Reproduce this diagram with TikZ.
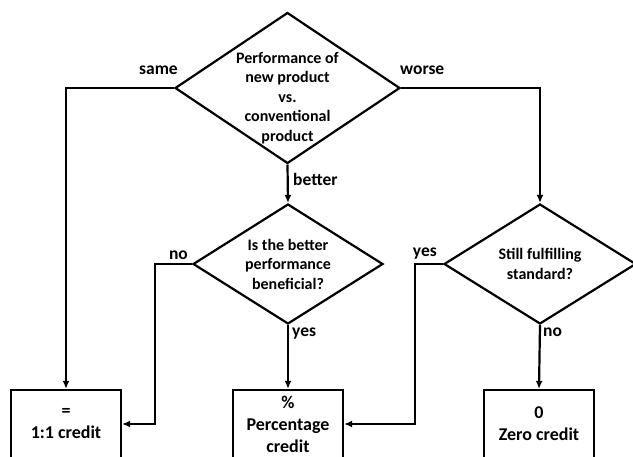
\documentclass[tikz,border=0pt]{standalone}
\usepackage{fontspec}
\setmainfont{Carlito}
\usetikzlibrary{shapes.geometric,arrows.meta}

\begin{document}
\begin{tikzpicture}[x=1pt, y=-1pt,
    decision/.style={shape=diamond, draw=black, line width=2.2pt, inner sep=0pt},
    result/.style={shape=rectangle, draw=black, line width=2.2pt, minimum width=110pt, minimum height=68pt, align=center, font=\fontsize{18}{22}\selectfont\bfseries},
    qtext/.style={align=center, inner sep=0pt, font=\fontsize{16}{19.5}\selectfont\bfseries},
    elabel/.style={inner sep=0pt, font=\fontsize{17.5}{21}\selectfont\bfseries},
    arr/.style={line width=2.2pt, -{Latex[length=8pt, width=7pt]}}]
    \useasboundingbox (0,0) rectangle (633,456);
    \clip (0,0) rectangle (633,456);
    \node[decision, minimum width=225pt, minimum height=151pt] at (287.5,88) (D0) {};
    \node[decision, minimum width=190pt, minimum height=120pt] at (288,264) (D1) {};
    \node[decision, minimum width=192pt, minimum height=120pt] at (540,264) (D2) {};
    \node[qtext] at ([yshift=-10pt]D0.center) (T0) {Performance of\\new product\\vs.\\conventional\\product};
    \node[qtext] at (D1.center) (T1) {Is the better\\performance\\beneficial?};
    \node[qtext] at (D2.center) (T2) {Still fulfilling\\standard?};
    \node[result] at (66,424) (R0) {=\\1:1 credit};
    \node[result] at (288,424) (R1) {\%\\Percentage\\credit};
    \node[result] at (539,424) (R2) {0\\Zero credit};
    \node[elabel, anchor=base east] at (178,74) (L0) {same};
    \node[elabel, anchor=base west] at (400,74) (L1) {worse};
    \node[elabel, anchor=base west] at (293,185) (L2) {better};
    \node[elabel, anchor=base east] at (188,259) (L3) {no};
    \node[elabel, anchor=base west] at (292,336) (L4) {yes};
    \node[elabel, anchor=base east] at (437,256) (L5) {yes};
    \node[elabel, anchor=base west] at (543,336) (L6) {no};
    \draw [arr] (D0.west) -| (R0.north);
    \draw [arr] (D0.east) -| (D2.north);
    \draw [arr] (D0.south) -- (D1.north);
    \draw [arr] (D1.west) -- ++(-37,0) |- (R0.east);
    \draw [arr] (D1.south) -- (R1.north);
    \draw [arr] (D2.west) -- ++(-28,0) |- (R1.east);
    \draw [arr] (D2.south) -- (R2.north);
\end{tikzpicture}
\end{document}
